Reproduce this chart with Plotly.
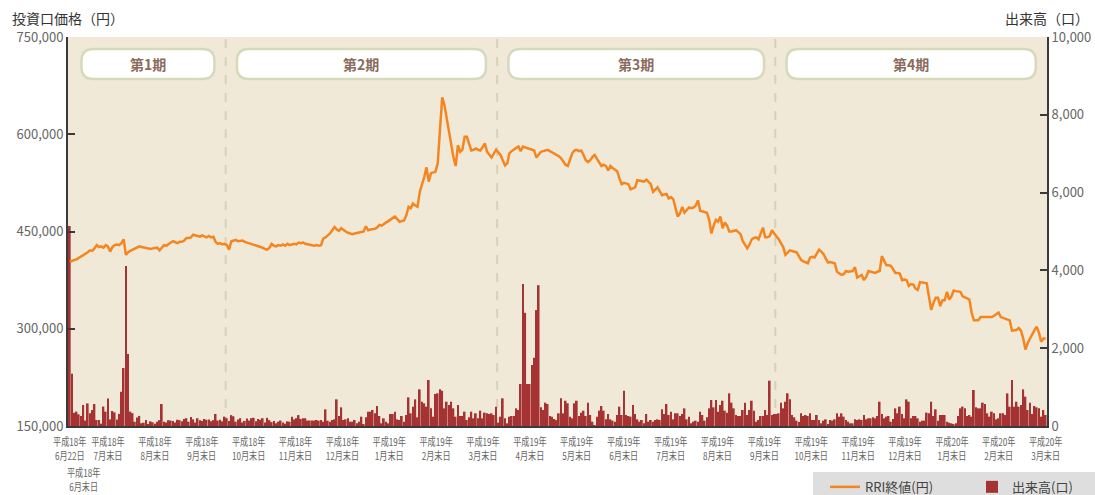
import plotly.graph_objects as go

# ---------------- data ----------------
period_names = ["第1期", "第2期", "第3期", "第4期"]

x_labels = [
    "平成18年<br>6月22日", "平成18年<br>7月末日", "平成18年<br>8月末日", "平成18年<br>9月末日",
    "平成18年<br>10月末日", "平成18年<br>11月末日", "平成18年<br>12月末日",
    "平成19年<br>1月末日", "平成19年<br>2月末日", "平成19年<br>3月末日", "平成19年<br>4月末日",
    "平成19年<br>5月末日", "平成19年<br>6月末日", "平成19年<br>7月末日", "平成19年<br>8月末日",
    "平成19年<br>9月末日", "平成19年<br>10月末日", "平成19年<br>11月末日", "平成19年<br>12月末日",
    "平成20年<br>1月末日", "平成20年<br>2月末日", "平成20年<br>3月末日",
]
extra_label = "平成18年<br>6月末日"

# RRI closing price (thousand yen), one value per trading day
price_p1 = [
    403, 405, 406, 407, 409, 411, 413, 416, 418, 421,
    420, 424, 429, 426, 427, 425, 429, 427, 419, 426,
    429, 430, 429, 432, 438, 414, 418, 420, 422, 424,
    425, 427, 426, 425, 424, 424, 423, 424, 424, 425,
    421, 425, 429, 428, 431, 433, 435, 434, 432, 434,
    434, 436, 440, 440, 441, 445, 444, 443, 442, 444,
    443, 441, 443, 441, 442, 434, 431, 432, 430, 431,
]
price_p2 = [
    429, 422, 435, 436, 437, 435, 436, 436, 434, 433,
    432, 431, 430, 428, 427, 427, 425, 423, 422, 425,
    431, 428, 427, 429, 428, 430, 428, 431, 429, 430,
    431, 430, 433, 432, 433, 431, 430, 429, 428, 428,
    429, 428, 429, 439, 441, 444, 447, 452, 457, 453,
    451, 455, 452, 450, 448, 447, 446, 447, 448, 448,
    449, 450, 458, 452, 453, 453, 454, 456, 460, 459,
    462, 464, 466, 469, 471, 473, 468, 465, 466, 467,
    475, 488, 486, 493, 490, 488, 511, 522, 534, 549,
    527, 540, 541, 542, 555, 601, 657, 645, 625, 604,
    581, 565, 551, 583, 573, 576, 596, 596, 585, 575,
    576, 578, 576, 575, 580, 586, 573, 569, 564, 570, 576,
]
price_p3 = [
    572, 568, 560, 552, 555, 571, 574, 577, 579, 581,
    574, 581, 580, 578, 577, 576, 575, 564, 568, 573,
    574, 575, 576, 574, 572, 571, 569, 566, 563, 558,
    553, 551, 562, 571, 575, 576, 574, 575, 568, 560,
    557, 560, 565, 568, 562, 556, 551, 553, 551, 544,
    551, 548, 546, 543, 532, 523, 525, 524, 523, 515,
    516, 518, 529, 528, 527, 527, 530, 527, 523, 511,
    514, 518, 512, 506, 507, 508, 501, 503, 500, 486,
    473, 478, 488, 479, 483, 487, 486, 487, 490, 498,
    482, 481, 480, 479, 468, 447, 459, 468, 465, 473,
    455, 464, 459, 450, 450, 451, 452, 449, 446, 435,
    429, 424, 430, 438, 440, 441, 438, 446, 456, 441,
    441, 443, 452, 447,
]
price_p4 = [
    443, 438, 432, 426, 414, 418, 421, 420, 419, 418,
    412, 406, 404, 403, 401, 410, 411, 410, 416, 422,
    419, 415, 408, 402, 403, 402, 401, 388, 386, 383,
    384, 389, 388, 389, 389, 395, 379, 381, 383, 375,
    380, 389, 388, 387, 386, 388, 389, 412, 405, 398,
    398, 397, 392, 386, 386, 385, 375, 376, 375, 366,
    369, 368, 362, 360, 372, 371, 370, 370, 349, 329,
    340, 348, 348, 335, 344, 344, 357, 345, 350, 359,
    358, 358, 357, 350, 349, 347, 345, 325, 313, 313,
    313, 318, 318, 317, 318, 318, 318, 320, 323, 325,
    318, 317, 315, 314, 313, 297, 297, 298, 301, 297,
    285, 268, 278, 285, 293, 298, 303, 294, 280, 285, 285,
]

# trading volume (units), one value per trading day
vol_p1 = [
    5140, 1340, 340, 370, 300, 260, 540, 140, 580, 330,
    410, 565, 155, 155, 60, 500, 370, 710, 170, 385,
    350, 170, 310, 880, 1490, 4110, 1850, 370, 330, 110,
    220, 260, 70, 85, 155, 50, 120, 95, 60, 110,
    150, 565, 110, 90, 150, 140, 130, 90, 160, 150,
    120, 180, 200, 110, 230, 170, 90, 200, 150, 130,
    180, 160, 170, 120, 150, 310, 140, 160, 120, 240,
]
vol_p2 = [
    200, 130, 280, 250, 110, 170, 200, 90, 130, 190,
    140, 200, 210, 120, 180, 160, 200, 90, 210, 150,
    100, 130, 70, 110, 140, 90, 60, 120, 110, 240,
    170, 200, 280, 180, 200, 200, 140, 140, 140, 140,
    154, 137, 154, 111, 428, 137, 111, 154, 171, 685,
    257, 480, 154, 171, 197, 111, 111, 154, 69, 111,
    240, 51, 223, 368, 368, 411, 326, 514, 257, 69,
    197, 111, 69, 308, 308, 368, 171, 154, 257, 111,
    283, 737, 326, 497, 685, 223, 942, 625, 583, 497,
    1182, 454, 240, 822, 840, 942, 908, 454, 625, 540,
    625, 454, 240, 540, 257, 257, 368, 154, 223, 368,
    197, 326, 197, 394, 197, 343, 326, 308, 326, 283, 497,
]
vol_p3 = [
    86, 240, 711, 197, 69, 240, 257, 257, 454, 411,
    1080, 3650, 2910, 1080, 1080, 1570, 1755, 2980, 3620, 480,
    411, 600, 565, 257, 240, 180, 150, 326, 711, 326,
    650, 583, 240, 197, 583, 650, 257, 343, 394, 257,
    600, 283, 111, 25, 240, 394, 514, 394, 171, 308,
    171, 137, 111, 283, 497, 283, 908, 283, 257, 240,
    540, 308, 171, 111, 154, 69, 308, 111, 154, 111,
    154, 171, 154, 428, 308, 565, 283, 368, 171, 326,
    326, 257, 308, 454, 171, 240, 69, 111, 137, 111,
    368, 283, 137, 223, 454, 668, 480, 668, 368, 540,
    650, 394, 343, 840, 600, 454, 283, 257, 257, 411,
    600, 283, 411, 650, 394, 111, 154, 257, 257, 411,
    283, 1165, 283, 308,
]
vol_p4 = [
    308, 326, 600, 454, 625, 840, 685, 283, 223, 137,
    100, 326, 257, 283, 257, 326, 154, 154, 283, 154,
    69, 137, 171, 26, 154, 137, 171, 326, 240, 326,
    240, 154, 111, 69, 69, 171, 154, 171, 154, 283,
    171, 197, 197, 223, 197, 257, 625, 308, 197, 240,
    257, 111, 180, 454, 326, 497, 308, 200, 685, 625,
    197, 257, 257, 197, 111, 137, 137, 343, 326, 625,
    257, 428, 137, 283, 283, 283, 111, 86, 69, 26,
    69, 257, 454, 497, 454, 257, 283, 240, 925, 480,
    454, 454, 600, 565, 326, 240, 368, 326, 171, 197,
    326, 326, 283, 840, 497, 1182, 497, 625, 497, 540,
    942, 754, 411, 600, 308, 514, 480, 454, 240, 411, 283,
]

# ---------------- build ----------------
price_periods = [price_p1, price_p2, price_p3, price_p4]
vol_periods = [vol_p1, vol_p2, vol_p3, vol_p4]
price = [v * 1000 for p in price_periods for v in p]
volume = [v for p in vol_periods for v in p]
n = len(price)
idx = list(range(n))

FONT = "Noto Sans CJK JP"
AXIS_COL = "#3a3a3a"
TICK_COL = "#666666"

x_min, x_max = -0.8, n - 0.4

# period boundaries (in trading-day index units)
bounds = [x_min]
acc = 0
for p in price_periods:
    acc += len(p)
    bounds.append(acc - 0.5)
bounds[-1] = x_max

step = 20.9
tick_pos = [0] + [n - 1 - step * (len(x_labels) - 2 - k) for k in range(len(x_labels) - 1)]

fig = go.Figure()
fig.add_trace(go.Bar(
    x=idx, y=volume, name="出来高(口)", yaxis="y",
    marker=dict(color="#a63333", line=dict(width=0)),
    hovertemplate="%{y:,}口<extra></extra>",
))
fig.add_trace(go.Scatter(
    x=idx, y=price, name="RRI終値(円)", yaxis="y2", mode="lines",
    line=dict(color="#f5861f", width=2.5),
    hovertemplate="%{y:,}円<extra></extra>",
))

shapes = []
for b in bounds[1:-1]:
    shapes.append(dict(type="line", xref="x", yref="paper", x0=b, x1=b, y0=0, y1=1,
                       line=dict(color="#d8d1ba", width=2, dash="dash"), layer="below"))


def rrect(x0, x1, y0, y1, rx, ry):
    return (f"M{x0+rx},{y0} L{x1-rx},{y0} Q{x1},{y0} {x1},{y0+ry} "
            f"L{x1},{y1-ry} Q{x1},{y1} {x1-rx},{y1} L{x0+rx},{y1} "
            f"Q{x0},{y1} {x0},{y1-ry} L{x0},{y0+ry} Q{x0},{y0} {x0+rx},{y0} Z")


plot_w = 979
plot_h = 389
px_x = (x_max - x_min) / plot_w
box_y0, box_y1 = 0.892, 0.969
rad = 12
annotations = []
for k, name in enumerate(period_names):
    bx0 = bounds[k] + 6 if k == 0 else bounds[k] + 5
    bx1 = bounds[k + 1] - 5
    shapes.append(dict(type="path", xref="x", yref="paper",
                       path=rrect(bx0, bx1, box_y0, box_y1, rad * px_x, rad / plot_h),
                       fillcolor="white", line=dict(color="#d6dabb", width=2.5), layer="below"))
    annotations.append(dict(x=(bx0 + bx1) / 2, y=(box_y0 + box_y1) / 2, xref="x", yref="paper",
                            text=f"<b>{name}</b>", showarrow=False,
                            xanchor="center", yanchor="middle",
                            font=dict(family=FONT, size=14, color="#8a6b5c")))

annotations.append(dict(x=6, y=-0.093, xref="x", yref="paper", text=extra_label,
                        showarrow=False, xanchor="center", yanchor="top", align="center",
                        font=dict(family=FONT, size=11, color=TICK_COL)))
annotations.append(dict(x=-0.0592, y=1.049, xref="paper", yref="paper", text="投資口価格（円）",
                        showarrow=False, xanchor="left", yanchor="middle",
                        font=dict(family=FONT, size=14, color="#333333")))
annotations.append(dict(x=1.045, y=1.049, xref="paper", yref="paper", text="出来高（口）",
                        showarrow=False, xanchor="right", yanchor="middle",
                        font=dict(family=FONT, size=14, color="#333333")))

axis_common = dict(showgrid=False, zeroline=False, showline=True, linecolor=AXIS_COL, linewidth=2,
                   ticks="inside", ticklen=7, tickwidth=2, tickcolor=AXIS_COL,
                   tickformat=",d", tickfont=dict(family=FONT, size=13, color=TICK_COL))

fig.update_layout(
    width=1095, height=495,
    margin=dict(l=68, r=48, t=37, b=69, autoexpand=False),
    paper_bgcolor="white", plot_bgcolor="#f0e9d8",
    font=dict(family=FONT),
    bargap=0.22,
    showlegend=True,
    legend=dict(orientation="h", x=0.761, y=-0.118, xanchor="left", yanchor="top",
                bgcolor="#dedede", traceorder="reversed", entrywidth=90, indentation=12,
                font=dict(family=FONT, size=13, color="#444444")),
    xaxis=dict(range=[x_min, x_max], tickmode="array", tickvals=tick_pos, ticktext=x_labels,
               showgrid=False, zeroline=False, showline=True, linecolor=AXIS_COL, linewidth=2,
               ticks="", tickangle=0, ticklabelstandoff=5,
               tickfont=dict(family=FONT, size=11, color=TICK_COL)),
    yaxis=dict(side="right", range=[0, 10000], dtick=2000, **axis_common),
    yaxis2=dict(side="left", overlaying="y", range=[150000, 750000], dtick=150000, **axis_common),
    shapes=shapes,
    annotations=annotations,
)

# page without default body margin; the reference uses a condensed face for date labels
post_js = """
document.body.style.margin = '0';
document.body.style.padding = '0';
var gd = document.getElementById('{plot_id}');
function squeezeLabels(){
  gd.querySelectorAll('g.xtick text, text.annotation-text').forEach(function(t){
    if (t.getAttribute('data-sq')) return;
    var s = t.textContent || '';
    if (s.indexOf('平成') < 0) return;
    var b = t.getBBox();
    var cx = b.x + b.width / 2;
    var tr = t.getAttribute('transform') || '';
    t.setAttribute('transform', tr + ' translate(' + cx + ',0) scale(0.74,1) translate(' + (-cx) + ',0)');
    t.setAttribute('data-sq', '1');
  });
}
squeezeLabels();
gd.on('plotly_afterplot', function(){ squeezeLabels(); });
"""

fig.write_html("out.html", post_script=post_js, config={"displayModeBar": False})
